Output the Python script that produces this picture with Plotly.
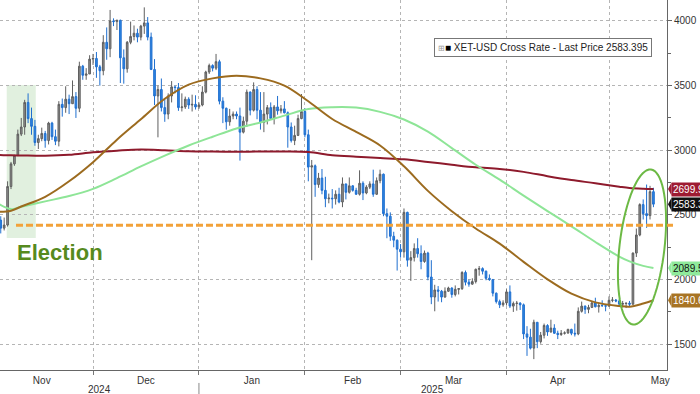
import math
import pandas as pd
import plotly.graph_objects as go

# ---------------- data ----------------
dates = pd.date_range("2024-11-03", "2025-05-14", freq="D")

open_ = [
    # Nov 3-30
    2490, 2460, 2398, 2422, 2720, 2895, 2960, 3125, 3180, 3370, 3245, 3185, 3060, 3090,
    3130, 3075, 3210, 3105, 3070, 3355, 3330, 3395, 3360, 3415, 3325, 3650, 3580, 3590,
    # Dec
    3705, 3710, 3645, 3615, 3835, 3785, 4000, 3995, 4005, 3715, 3630, 3835, 3880, 3905,
    3875, 3960, 3985, 3875, 3625, 3420, 3470, 3330, 3280, 3420, 3490, 3485, 3330, 3335,
    3395, 3350, 3355,
    # Jan
    3335, 3350, 3450, 3605, 3655, 3635, 3685, 3380, 3325, 3220, 3265, 3280, 3265, 3140,
    3225, 3450, 3310, 3470, 3310, 3215, 3280, 3330, 3245, 3335, 3305, 3320, 3290, 3180,
    3075, 3115, 3245,
    # Feb
    3300, 3120, 2870, 2880, 2735, 2785, 2690, 2625, 2630, 2625, 2660, 2600, 2740, 2675,
    2725, 2690, 2660, 2745, 2670, 2715, 2740, 2660, 2765, 2815, 2510, 2490, 2335, 2305,
    # Mar
    2235, 2215, 2520, 2150, 2170, 2240, 2200, 2140, 2205, 2020, 1865, 1920, 1910, 1865,
    1910, 1935, 1885, 1925, 1930, 2055, 1980, 1965, 1985, 2080, 2085, 2065, 2010, 2000,
    1895, 1830, 1805,
    # Apr
    1820, 1905, 1795, 1815, 1818, 1805, 1580, 1555, 1470, 1670, 1520, 1570, 1645, 1595,
    1625, 1585, 1575, 1585, 1588, 1615, 1585, 1580, 1755, 1795, 1770, 1785, 1820, 1790,
    1800, 1798,
    # May 1-14
    1795, 1840, 1842, 1835, 1810, 1815, 1818, 1810, 2205, 2345, 2580, 2510, 2495, 2680,
]
high = [
    2495, 2490, 2480, 2760, 2910, 2965, 3160, 3250, 3390, 3440, 3330, 3235, 3120, 3175,
    3150, 3220, 3220, 3160, 3380, 3400, 3495, 3430, 3540, 3450, 3685, 3660, 3635, 3735,
    3745, 3760, 3660, 3890, 3950, 4085, 4020, 4010, 4010, 3780, 3845, 3995, 3965, 3940,
    3970, 4105, 4030, 3910, 3705, 3500, 3555, 3395, 3440, 3535, 3500, 3520, 3440, 3415,
    3410, 3430, 3425,
    3370, 3495, 3615, 3670, 3665, 3745, 3700, 3410, 3330, 3320, 3300, 3300, 3330, 3260,
    3470, 3455, 3525, 3495, 3450, 3450, 3350, 3370, 3350, 3420, 3350, 3380, 3300, 3215,
    3190, 3275, 3435,
    3325, 3160, 2925, 2890, 2825, 2855, 2795, 2665, 2700, 2690, 2710, 2790, 2740, 2790,
    2730, 2710, 2845, 2760, 2730, 2760, 2850, 2790, 2850, 2820, 2550, 2520, 2370, 2310,
    2275, 2550, 2525, 2220, 2280, 2320, 2265, 2225, 2215, 2150, 1960, 1950, 1920, 1940,
    1945, 1940, 1955, 1935, 2065, 2070, 2000, 2010, 2085, 2105, 2095, 2070, 2040, 2005,
    1900, 1845, 1840,
    1925, 1955, 1830, 1835, 1825, 1815, 1640, 1620, 1690, 1670, 1595, 1660, 1655, 1690,
    1655, 1605, 1610, 1600, 1620, 1620, 1660, 1785, 1830, 1800, 1805, 1830, 1860, 1820,
    1840, 1810,
    1870, 1865, 1850, 1850, 1835, 1820, 1835, 2210, 2395, 2590, 2620, 2735, 2725, 2710,
]
low = [
    2355, 2357, 2380, 2410, 2700, 2880, 2955, 3110, 3120, 3210, 3120, 3035, 3010, 3070,
    3020, 3045, 3080, 3040, 3030, 3260, 3290, 3280, 3360, 3250, 3295, 3545, 3545, 3590,
    3660, 3560, 3500, 3580, 3700, 3720, 3960, 3930, 3520, 3515, 3600, 3820, 3850, 3835,
    3850, 3900, 3850, 3620, 3350, 3100, 3300, 3220, 3240, 3370, 3440, 3305, 3300, 3320,
    3320, 3300, 3315,
    3320, 3340, 3440, 3590, 3610, 3620, 3355, 3210, 3160, 3190, 3240, 3240, 2920, 3130,
    3180, 3270, 3300, 3240, 3160, 3140, 3200, 3235, 3200, 3275, 3285, 3285, 3020, 3060,
    3040, 3110, 3240,
    3100, 2760, 2150, 2640, 2710, 2660, 2560, 2590, 2550, 2580, 2590, 2560, 2620, 2665,
    2680, 2655, 2650, 2615, 2660, 2700, 2640, 2655, 2745, 2490, 2320, 2300, 2250, 2070,
    2170, 2170, 2100, 1990, 2140, 2170, 2080, 2130, 1995, 1810, 1755, 1830, 1825, 1860,
    1905, 1860, 1870, 1885, 1920, 1955, 1945, 1960, 1970, 2030, 2040, 1995, 1990, 1870,
    1815, 1780, 1790,
    1800, 1780, 1750, 1760, 1765, 1540, 1410, 1460, 1385, 1470, 1505, 1545, 1565, 1590,
    1580, 1540, 1565, 1575, 1580, 1570, 1560, 1570, 1745, 1735, 1740, 1780, 1785, 1745,
    1790, 1755,
    1790, 1825, 1825, 1805, 1785, 1780, 1795, 1805, 2175, 2335, 2465, 2400, 2465, 2560,
]
close = [
    2460, 2398, 2422, 2720, 2895, 2960, 3125, 3180, 3370, 3245, 3185, 3060, 3090, 3130,
    3075, 3210, 3105, 3070, 3355, 3330, 3395, 3360, 3415, 3325, 3650, 3580, 3590, 3705,
    3710, 3645, 3615, 3835, 3785, 4000, 3995, 4005, 3715, 3630, 3835, 3880, 3905, 3875,
    3960, 3985, 3875, 3625, 3420, 3470, 3330, 3280, 3420, 3490, 3485, 3330, 3335, 3395,
    3350, 3355, 3335,
    3350, 3450, 3605, 3655, 3635, 3685, 3380, 3325, 3220, 3265, 3280, 3265, 3140, 3225,
    3450, 3310, 3470, 3310, 3215, 3280, 3330, 3245, 3335, 3305, 3320, 3290, 3180, 3075,
    3115, 3245, 3300,
    3120, 2870, 2880, 2735, 2785, 2690, 2625, 2630, 2625, 2660, 2600, 2740, 2675, 2725,
    2690, 2660, 2745, 2670, 2715, 2740, 2660, 2765, 2815, 2510, 2490, 2335, 2305, 2235,
    2215, 2520, 2150, 2170, 2240, 2200, 2140, 2205, 2020, 1865, 1920, 1910, 1865, 1910,
    1935, 1885, 1925, 1930, 2055, 1980, 1965, 1985, 2080, 2085, 2065, 2010, 2000, 1895,
    1830, 1805, 1820,
    1905, 1795, 1815, 1818, 1805, 1580, 1555, 1470, 1670, 1520, 1570, 1645, 1595, 1625,
    1585, 1575, 1585, 1588, 1615, 1585, 1580, 1755, 1795, 1770, 1785, 1820, 1790, 1800,
    1798, 1795,
    1840, 1842, 1835, 1810, 1815, 1818, 1810, 2205, 2345, 2580, 2510, 2495, 2680, 2583.395,
]

ma_dates = ["2024-11-03", "2024-11-07", "2024-11-10", "2024-11-17", "2024-11-24",
            "2024-12-01", "2024-12-08", "2024-12-15", "2024-12-22", "2024-12-29",
            "2025-01-05", "2025-01-12", "2025-01-19", "2025-01-26", "2025-02-02",
            "2025-02-09", "2025-02-16", "2025-02-23", "2025-03-02", "2025-03-09",
            "2025-03-16", "2025-03-23", "2025-03-30", "2025-04-06", "2025-04-13",
            "2025-04-20", "2025-04-27", "2025-05-04", "2025-05-07", "2025-05-11",
            "2025-05-14"]
ma50 = [2523, 2533, 2565, 2640, 2760, 2908, 3082, 3240, 3398, 3508, 3556, 3576, 3556,
        3500, 3379, 3242, 3142, 3037, 2876, 2686, 2529, 2395, 2278, 2137, 2002, 1891,
        1824, 1796, 1790, 1815, 1840.68]
ma100 = [2592, 2545, 2564, 2605, 2646, 2702, 2785, 2875, 2959, 3037, 3105, 3169, 3215,
         3268, 3319, 3333, 3330, 3297, 3238, 3144, 3017, 2888, 2773, 2650, 2530, 2412,
         2291, 2178, 2141, 2106, 2089.58]
ma200 = [2965, 2961, 2960, 2958, 2965, 2984, 2997, 3006, 3000, 2992, 2990, 2989, 2990,
         2990, 2986, 2962, 2950, 2940, 2930, 2910, 2888, 2868, 2856, 2833, 2800, 2770,
         2745, 2718, 2708, 2702, 2699.91]

last_price = 2583.395
election_level = 2420
legend_text = "XET-USD Cross Rate - Last Price 2583.395"
tag_values = [(2699.91, "2699.91", "#9E1B32", "white"),
              (2583.395, "2583.395", "#111111", "white"),
              (2089.58, "2089.58", "#8FEA9B", "#111111"),
              (1840.68, "1840.68", "#A87424", "white")]

# ---------------- layout constants ----------------
W, H = 700, 394
ML, MR, MT, MB = 0, 33, 0, 24
PW, PH = W - ML - MR, H - MT - MB
x_start = pd.Timestamp("2024-11-03 18:43")
x_end = pd.Timestamp("2025-05-17 23:15")
y_lo, y_hi = 1301, 4162
UPP = (y_hi - y_lo) / PH  # value units per pixel

FONT = "Liberation Sans, Arial, sans-serif"
C_RED = "#8E1A2C"
C_GREEN = "#8EE597"
C_BROWN = "#9C6B1F"

fig = go.Figure()

fig.add_trace(go.Candlestick(
    x=dates, open=open_, high=high, low=low, close=close,
    increasing=dict(line=dict(color="#5f5f5f", width=1), fillcolor="#8d8d8d"),
    decreasing=dict(line=dict(color="#1f6fcf", width=1), fillcolor="#2f86e3"),
    whiskerwidth=0, showlegend=False, name="XET-USD",
))

for vals, col in [(ma200, C_RED), (ma100, C_GREEN), (ma50, C_BROWN)]:
    fig.add_trace(go.Scatter(x=ma_dates, y=vals, mode="lines",
                             line=dict(color=col, width=2, shape="spline", smoothing=1.0),
                             showlegend=False, hoverinfo="skip"))

shapes = []
# election shaded band
shapes.append(dict(type="rect", xref="x", yref="y", layer="below",
                   x0="2024-11-05 18:00", x1="2024-11-14 06:00", y0=2322, y1=3505,
                   fillcolor="rgba(200,228,196,0.55)", line=dict(width=0)))
# election level dashed line
shapes.append(dict(type="line", xref="paper", yref="y",
                   x0=16 / PW, x1=1.01, y0=election_level, y1=election_level,
                   line=dict(color="#F2A23A", width=3, dash="7px,3px")))
# ellipse around the May rally (pixel geometry -> paper)
cx, cy, a, b, phi = 642, 247, 78, 22.5, math.radians(6.6)
pts = []
for i in range(73):
    t = 2 * math.pi * i / 72
    px = cx + a * math.sin(t) * math.sin(phi) + b * math.cos(t) * math.cos(phi)
    py = cy - a * math.sin(t) * math.cos(phi) + b * math.cos(t) * math.sin(phi)
    pts.append(((px - ML) / PW, 1 - (py - MT) / PH))
path = "M " + " L ".join(f"{u:.5f},{v:.5f}" for u, v in pts) + " Z"
shapes.append(dict(type="path", xref="paper", yref="paper", path=path,
                   line=dict(color="#6CB944", width=2)))
# year separator
shapes.append(dict(type="line", xref="x", yref="paper", x0="2025-01-01", x1="2025-01-01",
                   y0=-0.035, y1=-0.07, line=dict(color="#888", width=1)))
# pointer triangles of the value tags
for val, txt, bg, fc in tag_values:
    tip, base = 1 + 1 / PW, 1 + 4.5 / PW
    hh = 6.5 * UPP
    shapes.append(dict(type="path", xref="paper", yref="y",
                       path=f"M {tip},{val} L {base},{val + hh} L {base},{val - hh} Z",
                       fillcolor=bg, line=dict(width=0)))

annotations = []
annotations.append(dict(text="Election", xref="paper", yref="y", x=15 / PW, y=2206,
                        xanchor="left", yanchor="middle", showarrow=False,
                        font=dict(family=FONT, size=22, color="#568A1E", weight="bold")))
annotations.append(dict(text="<span style='color:#9a9a9a;font-size:8px'>⊞</span>"
                             "<span style='color:#000'>■</span> " + legend_text,
                        xref="paper", yref="paper", x=434 / PW, y=1 - 38 / PH,
                        xanchor="left", yanchor="top", showarrow=False,
                        font=dict(family=FONT, size=10, color="#222"),
                        bgcolor="white", bordercolor="#777", borderwidth=1, borderpad=3))
for val, txt, bg, fc in tag_values:
    annotations.append(dict(text=txt, xref="paper", yref="y", x=1, y=val,
                            xanchor="left", yanchor="middle", xshift=4, showarrow=False,
                            font=dict(family=FONT, size=10, color=fc),
                            bgcolor=bg, borderpad=1))
jan1 = pd.Timestamp("2025-01-01")
for yr, mid in [("2024", x_start + (jan1 - x_start) / 2), ("2025", jan1 + (x_end - jan1) / 2)]:
    annotations.append(dict(text=yr, xref="x", yref="paper", x=mid, y=1 - 389.5 / PH,
                            xanchor="center", yanchor="middle", showarrow=False,
                            font=dict(family=FONT, size=10, color="#333")))

fig.update_layout(
    width=W, height=H, margin=dict(l=ML, r=MR, t=MT, b=MB),
    paper_bgcolor="white", plot_bgcolor="white",
    shapes=shapes, annotations=annotations, showlegend=False,
    xaxis=dict(type="date", range=[x_start, x_end], rangeslider=dict(visible=False),
               dtick="M1", tick0="2024-11-01", ticklabelmode="period", tickformat="%b",
               showgrid=True, gridcolor="#b5b5b5", griddash="dot", gridwidth=1,
               ticks="outside", ticklen=4, tickcolor="#777", ticklabelstandoff=-3,
               showline=True, linecolor="#666", linewidth=1,
               tickfont=dict(family=FONT, size=10, color="#333")),
    yaxis=dict(side="right", range=[y_lo, y_hi], dtick=500, tick0=0,
               showgrid=True, gridcolor="#b5b5b5", griddash="dot", gridwidth=1,
               ticks="outside", ticklen=4, tickcolor="#666",
               minor=dict(dtick=250, tick0=0, ticks="outside", ticklen=3, tickcolor="#666",
                          showgrid=False),
               showline=True, linecolor="#666", linewidth=1, zeroline=False,
               tickfont=dict(family=FONT, size=10, color="#333")),
)

fig.write_html("out.html", config={"displayModeBar": False},
               post_script="document.body.style.margin='0';document.body.style.overflow='hidden';")
